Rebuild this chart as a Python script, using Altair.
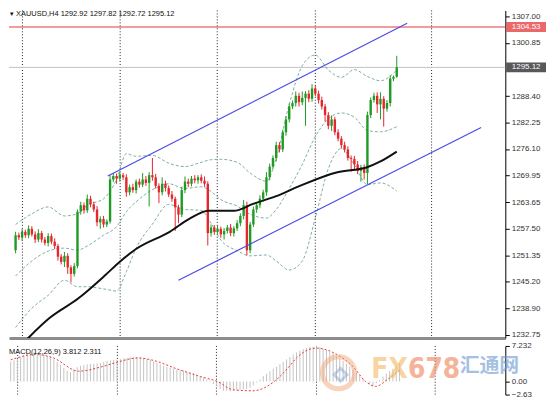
import altair as alt
import pandas as pd

FONT = "Liberation Sans"
SYMBOL = "XAUUSD,H4"
LAST_OHLC = [1292.92, 1297.82, 1292.72, 1295.12]

# ---- candles (H4) ----
OPEN_FIRST = 1252.5
CLOSE = [1256.0, 1255.5, 1256.8, 1256.0, 1257.5, 1256.2, 1255.0, 1256.5, 1255.0, 1254.2,
         1255.8, 1254.5, 1253.5, 1251.0, 1249.8, 1251.2, 1248.5, 1247.0, 1248.8, 1261.5,
         1263.0, 1261.8, 1264.5, 1263.2, 1262.0, 1259.0, 1259.8, 1258.5, 1259.2, 1269.0,
         1269.8, 1269.2, 1270.0, 1269.5, 1266.0, 1267.2, 1266.5, 1268.5, 1267.8, 1269.0,
         1268.2, 1270.0, 1269.5, 1267.5, 1266.0, 1268.0, 1267.0, 1265.5, 1264.5, 1262.5,
         1260.8, 1266.5, 1268.5, 1268.0, 1269.2, 1268.8, 1269.5, 1268.7, 1268.0, 1256.5,
         1257.8, 1256.8, 1257.5, 1256.2, 1257.0, 1257.8, 1256.5, 1257.6, 1258.8, 1260.5,
         1263.0, 1252.5, 1258.5, 1262.0, 1263.0, 1264.5, 1266.0, 1269.5, 1272.0, 1274.0,
         1277.0, 1276.0, 1280.0, 1283.0, 1286.0, 1286.8, 1288.5, 1287.0, 1288.0, 1289.0,
         1287.8, 1290.2, 1289.0, 1287.5, 1286.0, 1284.0, 1281.5, 1283.0, 1280.0, 1278.5,
         1277.0, 1276.0, 1274.0, 1273.8, 1272.5, 1271.0, 1271.8, 1270.5, 1284.0, 1287.5,
         1288.5, 1286.5, 1287.8, 1285.5, 1286.8, 1292.5, 1292.92, 1295.12]
UP_WICK = [0.8, 0.6, 0.7, 0.5, 0.8, 0.6, 0.7, 0.9, 0.5, 0.6,
           0.7, 0.6, 0.8, 0.5, 0.6, 0.9, 0.6, 0.5, 0.7, 0.5,
           0.8, 0.6, 1.0, 0.7, 0.6, 0.8, 0.6, 0.7, 0.5, 1.0,
           0.7, 0.6, 0.8, 0.5, 0.7, 0.6, 0.8, 0.5, 0.7, 1.5,
           0.8, 0.7, 4.0, 0.8, 0.6, 1.5, 0.7, 0.6, 0.8, 0.5,
           0.6, 0.8, 1.2, 0.7, 0.6, 0.8, 0.5, 0.7, 1.0, 0.6,
           0.7, 0.6, 0.8, 0.5, 0.7, 0.6, 0.8, 0.5, 0.7, 0.6,
           1.2, 0.8, 0.6, 0.7, 0.5, 0.8, 0.6, 1.2, 0.7, 0.6,
           0.8, 0.7, 0.6, 0.8, 0.7, 0.6, 1.0, 0.7, 1.5, 0.6,
           0.8, 1.0, 0.6, 0.7, 0.8, 0.6, 0.7, 0.9, 0.6, 0.7,
           0.6, 0.8, 0.7, 0.6, 0.7, 0.8, 0.6, 0.7, 0.8, 0.6,
           0.7, 0.8, 1.5, 0.6, 0.7, 0.8, 0.3, 2.7]
DN_WICK = [0.7, 0.6, 0.8, 0.6, 0.7, 0.5, 0.8, 0.6, 0.7, 0.6,
           0.8, 0.6, 0.7, 0.9, 0.6, 1.2, 1.5, 2.0, 0.6, 0.5,
           0.7, 0.8, 0.6, 0.7, 0.6, 0.9, 1.5, 0.7, 0.6, 0.5,
           0.6, 1.2, 0.7, 0.6, 1.0, 0.7, 0.6, 0.8, 0.7, 0.6,
           0.7, 5.5, 0.8, 0.6, 2.5, 0.7, 0.8, 0.6, 0.7, 5.5,
           2.0, 0.6, 0.7, 0.8, 0.6, 0.7, 0.8, 0.6, 0.7, 2.9,
           0.8, 0.7, 0.6, 0.8, 1.2, 0.6, 0.7, 0.8, 0.6, 0.7,
           0.8, 1.2, 0.7, 0.6, 0.8, 0.7, 0.6, 0.8, 0.7, 0.6,
           0.8, 0.7, 0.6, 0.8, 0.7, 0.6, 0.8, 1.0, 0.7, 6.5,
           0.8, 0.7, 0.6, 0.8, 0.7, 1.5, 0.8, 1.2, 0.7, 0.6,
           0.8, 0.7, 0.6, 3.0, 1.2, 0.8, 2.5, 1.5, 2.6, 0.7,
           0.6, 2.0, 3.5, 4.2, 0.7, 0.8, 0.6, 0.2]

# ---- moving average (black) ----
MA_IDX = [0, 4.2, 10.4, 19.3, 27.4, 32.1, 37.2, 47.3, 53.3, 59.2, 67.0, 72.9, 80.0, 86.9, 98.8, 107.7, 112.0, 117.0]
MA_VAL = [1229.0, 1232.3, 1236.7, 1241.3, 1246.6, 1249.9, 1252.9, 1256.8, 1259.8, 1261.7, 1261.7,
          1263.3, 1265.1, 1267.4, 1270.7, 1271.8, 1273.2, 1275.5]

# ---- Bollinger bands (dashed) ----
BAND_IDX = [0, 5, 10, 15, 19, 22, 27, 31, 34, 37, 42, 47, 52, 57, 60, 63, 68, 72, 77, 80,
            84, 88, 92, 96, 100, 104, 108, 112, 117]
BAND_UP = [1258.5, 1261.0, 1262.6, 1260.5, 1261.0, 1263.0, 1264.5, 1269.0, 1275.0, 1274.4,
           1274.6, 1272.8, 1272.0, 1273.0, 1273.6, 1273.7, 1273.0, 1270.5, 1268.6, 1274.0,
           1286.5, 1295.5, 1298.0, 1294.5, 1292.8, 1294.6, 1293.0, 1292.0, 1294.5]
BAND_MID = [1246.5, 1250.0, 1252.3, 1253.0, 1252.5, 1253.5, 1256.0, 1258.0, 1261.5, 1263.8,
            1266.6, 1268.0, 1266.9, 1267.3, 1266.2, 1264.3, 1262.8, 1260.9, 1260.0, 1262.0,
            1266.9, 1272.5, 1279.0, 1283.1, 1284.5, 1283.5, 1280.4, 1280.1, 1281.3]
BAND_LO = [1234.5, 1239.0, 1242.0, 1245.5, 1244.0, 1244.0, 1243.5, 1243.0, 1247.5, 1253.0,
           1258.6, 1263.2, 1262.0, 1261.8, 1258.8, 1254.9, 1252.4, 1251.2, 1251.4, 1250.0,
           1247.9, 1250.0, 1260.0, 1271.5, 1276.2, 1272.4, 1267.8, 1268.2, 1266.3]

# ---- channel trend lines (blue) ----
CH_UP = [(28.3, 1269.8), (120.2, 1305.4)]
CH_LO = [(50.0, 1245.5), (142.9, 1281.1)]

RED_LEVEL = 1304.53
LAST_PRICE = 1295.12
Y_TICKS = [1307.00, 1300.85, 1288.40, 1282.25, 1276.10, 1269.95, 1263.65, 1257.50,
           1251.35, 1245.20, 1238.90, 1232.75]
GRID_X = [2.1, 32.1, 61.9, 92.0, 127.7]

# ---- MACD ----
MACD_HIST = [4.0, 4.3, 4.6, 5.0, 5.3, 5.6, 5.9,
             5.9, 5.8, 5.6, 5.4, 5.2, 5.0,
             4.5, 4.0, 3.4, 2.8, 2.2, 1.9,
             2.4, 2.9, 3.2, 3.4, 3.5, 3.6, 3.6, 3.7, 3.8,
             4.0, 4.2, 4.3, 4.4, 4.4, 4.6, 4.7, 4.8, 4.9, 5.0,
             5.0, 4.9, 4.8, 4.6, 4.4, 4.1, 3.8, 3.5, 3.2, 3.0,
             2.8, 2.6, 2.4, 2.3, 2.2, 2.0, 1.9,
             1.7, 1.4, 1.1, 0.8, 0.4, 0.2, -0.5, -1.0, -1.5, -1.9,
             -1.9, -2.0, -1.9, -1.8, -1.7, -1.6, -1.5, -1.3,
             -0.8, -0.2, 0.4, 1.1, 1.6, 2.1, 2.6, 3.0,
             3.5, 4.0, 4.5, 5.0, 5.5, 5.9, 6.3,
             6.6, 6.8, 7.0, 7.1, 7.2,
             7.0, 6.7, 6.4, 6.0, 5.7,
             5.2, 4.7, 4.2, 3.6, 3.0,
             2.4, 1.8, 1.2, 0.6,
             0.0, -0.5, -0.9, -0.4, 0.3, 1.0,
             1.6, 2.1, 2.6, 3.2, 3.8]
SIG_IDX = [0, 7.4, 12.5, 20.5, 27.4, 32.4, 38.4, 42.3, 50.3, 57.1, 62.2, 67, 72.9, 80, 84,
           86, 92, 97, 103, 106.8, 109.8, 113.7, 117]
SIG_VAL = [4.4, 5.5, 4.9, 2.1, 3.0, 4.0, 4.8, 4.4, 2.5, 1.0, 0.0, -1.7, -1.9, 0.4, 3.2,
           4.8, 6.8, 5.9, 3.0, 0.0, -1.0, 0.6, 2.3]
MACD_TICKS = [7.232, 0.0, -2.63]
MACD_LABEL = "MACD(12,26,9) 3.812 2.311"

BULL, BEAR = "#1f9a24", "#e5262d"
W, H, HM = 500, 330, 49

# ---- tables ----
opens = [OPEN_FIRST] + CLOSE[:-1]
rows = []
for k, (o, c) in enumerate(zip(opens, CLOSE)):
    rows.append(dict(i=k, o=o, c=c, h=max(o, c) + UP_WICK[k], l=min(o, c) - DN_WICK[k],
                     col=BULL if c >= o else BEAR))
candles = pd.DataFrame(rows)

bands = pd.concat([
    pd.DataFrame({"i": BAND_IDX, "p": BAND_UP, "b": "up"}),
    pd.DataFrame({"i": BAND_IDX, "p": BAND_MID, "b": "mid"}),
    pd.DataFrame({"i": BAND_IDX, "p": BAND_LO, "b": "lo"}),
])
ma = pd.DataFrame({"i": MA_IDX, "p": MA_VAL})
chan = pd.DataFrame([dict(i=a, p=b, ln="up") for a, b in CH_UP] +
                    [dict(i=a, p=b, ln="lo") for a, b in CH_LO])
grid = pd.DataFrame({"gx": GRID_X})
boxes = pd.DataFrame({"p": [RED_LEVEL, LAST_PRICE], "lab": [f"{RED_LEVEL:.2f}", f"{LAST_PRICE:.2f}"],
                      "col": ["#e3262b", "#111111"]})
hist = pd.DataFrame({"i": list(range(len(MACD_HIST))), "v": MACD_HIST})
sig = pd.DataFrame({"i": SIG_IDX, "v": SIG_VAL})
one = pd.DataFrame({"a": [0]})

title_txt = "\u25be " + SYMBOL + "  " + " ".join(f"{v:.2f}" for v in LAST_OHLC)

# ---- scales / axes ----
xs = alt.Scale(domain=[-0.5, 148.8], nice=False, zero=False)
ys = alt.Scale(domain=[1232.05, 1308.39], nice=False, zero=False)
ms = alt.Scale(domain=[-2.67, 7.24], nice=False, zero=False)

xaxis = alt.Axis(title=None, labels=False, ticks=False, grid=False, orient="bottom",
                 domainColor="#8c8c8c", domainWidth=3)
yaxis = alt.Axis(title=None, orient="right", values=Y_TICKS, format=".2f", grid=False,
                 tickSize=4, tickColor="#000", domainColor="#000", labelFont=FONT,
                 labelFontSize=8, labelColor="#333", labelPadding=2, labelOverlap=False,
                 labelBound=False, labelFlush=False)
lab_expr = "datum.value == 0 ? '0.00' : format(datum.value, '.4~f')"
maxis = alt.Axis(title=None, orient="right", values=MACD_TICKS, labelExpr=lab_expr, grid=False,
                 tickSize=4, tickColor="#000", domainColor="#000", labelFont=FONT,
                 labelFontSize=8, labelColor="#333", labelPadding=2, labelOverlap=False,
                 labelBound=False, labelFlush=False)


def X(f):
    return alt.X(f, type="quantitative", scale=xs, axis=xaxis)


def XM(f):
    return alt.X(f, type="quantitative", scale=xs, axis=None)


def Y(f):
    return alt.Y(f, type="quantitative", scale=ys, axis=yaxis)


def YM(f):
    return alt.Y(f, type="quantitative", scale=ms, axis=maxis)


# ---- main panel ----
g_rules = alt.Chart(grid).mark_rule(color="#222", strokeDash=[1, 2], strokeWidth=1).encode(x=X("gx"))
last_line = alt.Chart(pd.DataFrame({"p": [LAST_PRICE]})).mark_rule(color="#c2c2c2", strokeWidth=1).encode(y=Y("p"))
red_line = alt.Chart(pd.DataFrame({"p": [RED_LEVEL]})).mark_rule(color="#e8393f", strokeWidth=1.2).encode(y=Y("p"))
band_l = alt.Chart(bands).mark_line(color="#7fae9f", strokeDash=[3, 2], strokeWidth=1,
                                     interpolate="monotone", clip=True).encode(
    x=X("i"), y=Y("p"), detail="b:N")
wicks = alt.Chart(candles).mark_rule(strokeWidth=1).encode(
    x=X("i"), y=Y("l"), y2=alt.Y2("h"), color=alt.Color("col:N", scale=None))
bodies = alt.Chart(candles).mark_bar(size=2.4).encode(
    x=X("i"), y=Y("o"), y2=alt.Y2("c"), color=alt.Color("col:N", scale=None))
ma_l = alt.Chart(ma).mark_line(color="#111", strokeWidth=2, interpolate="monotone", clip=True).encode(
    x=X("i"), y=Y("p"))
chan_l = alt.Chart(chan).mark_line(color="#4b4be6", strokeWidth=1.2, clip=True).encode(
    x=X("i"), y=Y("p"), detail="ln:N")
box_r = alt.Chart(boxes).mark_tick(orient="horizontal", size=40, thickness=10).encode(
    x=alt.value(W + 21), y=Y("p"), color=alt.Color("col:N", scale=None))
box_t = alt.Chart(boxes).mark_text(color="white", font=FONT, fontSize=8).encode(
    x=alt.value(W + 21), y=Y("p"), text="lab:N")
title_t = alt.Chart(one).mark_text(align="left", baseline="top", font=FONT, fontSize=7.5,
                                   color="#111", text=title_txt).encode(
    x=alt.value(1), y=alt.value(0))

main = alt.layer(g_rules, last_line, red_line, band_l, wicks, bodies, ma_l, chan_l,
                 box_r, box_t, title_t).properties(width=W, height=H)

# ---- MACD panel ----
mg_rules = alt.Chart(grid).mark_rule(color="#222", strokeDash=[1, 2], strokeWidth=1).encode(x=XM("gx"))
hist_b = alt.Chart(hist).mark_rule(color="#c4c4c4", strokeWidth=1).encode(
    x=XM("i"), y=YM("v"), y2=alt.datum(0))
sig_l = alt.Chart(sig).mark_line(color="#e23a3a", strokeDash=[2, 2], strokeWidth=1,
                                 interpolate="monotone").encode(x=XM("i"), y=YM("v"))
macd_t = alt.Chart(one).mark_text(align="left", baseline="middle", font=FONT, fontSize=7.5,
                                  color="#111", text=MACD_LABEL).encode(
    x=alt.value(0), y=alt.value(6))
logo_ring = alt.Chart(one).mark_point(shape="circle", size=1050, filled=False, strokeWidth=5,
                                      color="#f0a070", opacity=0.45).encode(
    x=alt.value(332), y=alt.value(27))
logo_in = alt.Chart(one).mark_point(shape="diamond", size=170, filled=False, strokeWidth=3,
                                    color="#8aa8d6", opacity=0.5).encode(
    x=alt.value(334), y=alt.value(29))
wm_font = "Liberation Sans Narrow, DejaVu Sans Condensed, sans-serif"
wm_fx = alt.Chart(one).mark_text(align="left", baseline="middle", font=wm_font, fontSize=28,
                                 fontWeight="bold", color="#f5c27a", opacity=0.7, text="FX").encode(
    x=alt.value(365), y=alt.value(24))
wm_num = alt.Chart(one).mark_text(align="left", baseline="middle", font=wm_font, fontSize=28,
                                  fontWeight="bold", color="#f2946e", opacity=0.7, text="678").encode(
    x=alt.value(402), y=alt.value(24))
wm_cn = alt.Chart(one).mark_text(align="left", baseline="middle", font="Noto Sans CJK SC",
                                 fontSize=20, fontWeight="bold", color="#6b98d0", opacity=0.6,
                                 text="汇通网").encode(
    x=alt.value(454), y=alt.value(20))

macd = alt.layer(mg_rules, hist_b, sig_l, macd_t, logo_ring, logo_in, wm_fx, wm_num,
                 wm_cn).properties(width=W, height=HM)

chart = alt.vconcat(main, macd, spacing=3).properties(padding=0).configure_view(stroke=None)
chart.save("out.html", embed_options={"renderer": "svg", "actions": False})
